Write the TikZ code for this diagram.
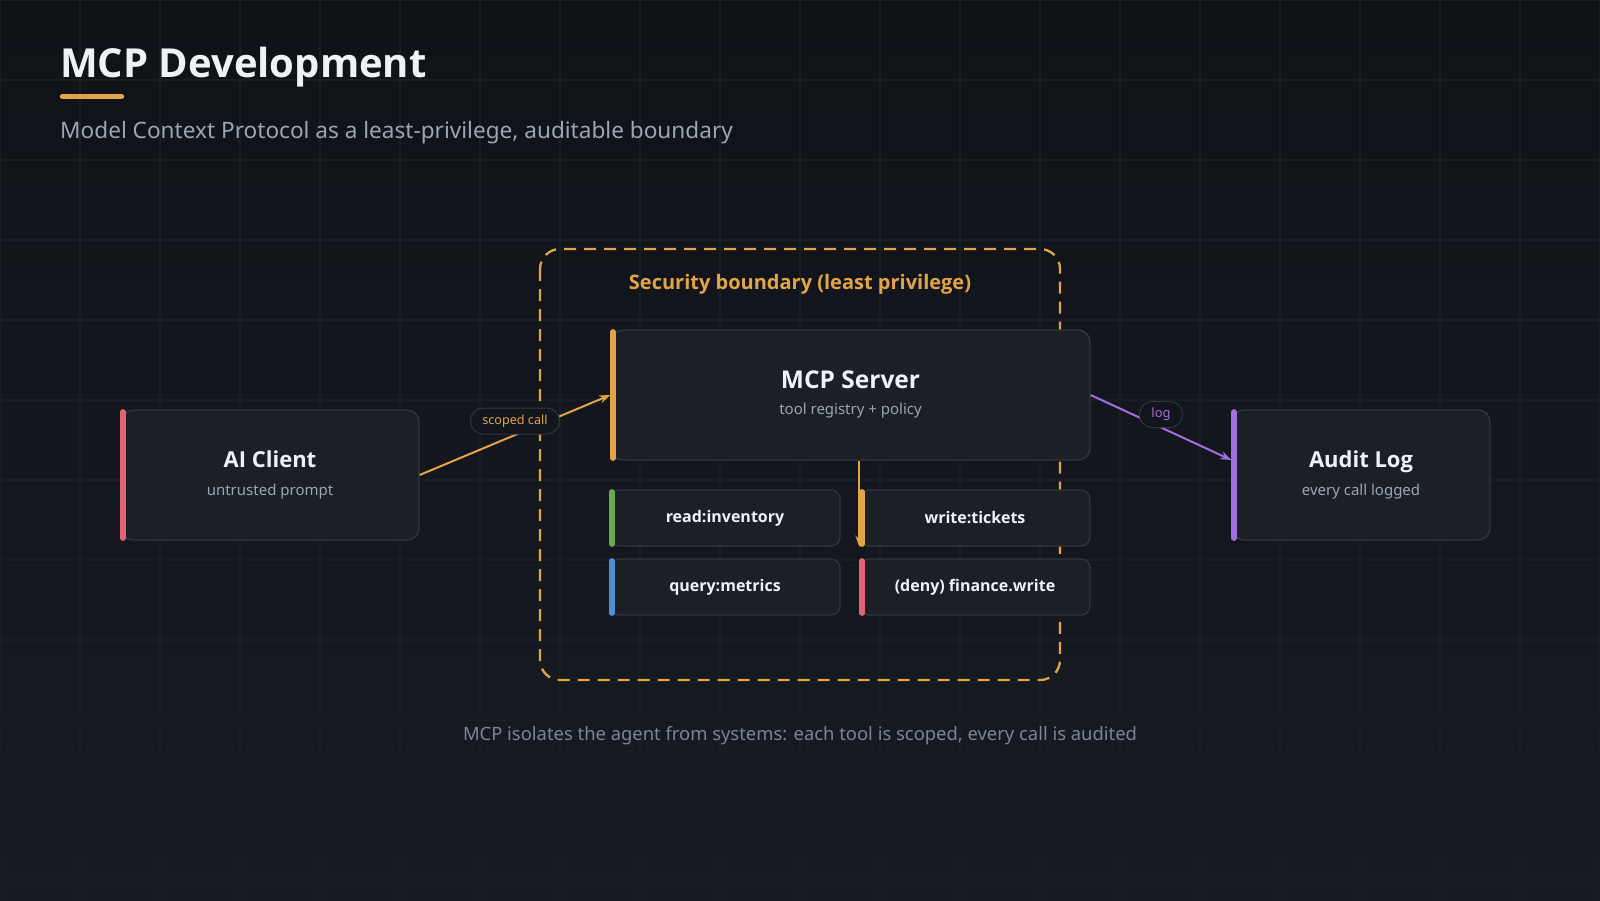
\documentclass[tikz,border=0pt]{standalone}
\usepackage{fontspec}
\setmainfont{Noto Sans}[BoldFont={Open Sans Bold}]
\usetikzlibrary{arrows.meta}

\definecolor{bgtop}{HTML}{0F1217}
\definecolor{bgbot}{HTML}{171B23}
\definecolor{gridc}{HTML}{191D24}
\definecolor{cardfill}{HTML}{1C1F26}
\definecolor{cardline}{HTML}{30363F}
\definecolor{pillfill}{HTML}{12151B}
\definecolor{ink}{HTML}{EEF2F7}
\definecolor{subtext}{HTML}{9AA6B4}
\definecolor{footc}{HTML}{7B8594}
\definecolor{amber}{HTML}{E3A447}
\definecolor{rose}{HTML}{E06472}
\definecolor{leaf}{HTML}{6AAA4A}
\definecolor{sky}{HTML}{4F8FD0}
\definecolor{violet}{HTML}{A36EE0}

\tikzset{
  card/.style={draw=cardline, line width=1.3pt, fill=cardfill, rounded corners=12pt, inner sep=0pt},
  bigcard/.style={card, minimum height=130pt},
  toolbox/.style={card, rounded corners=9pt, minimum width=230pt, minimum height=56pt,
    text=ink, font=\fontsize{16}{19}\selectfont\bfseries},
  cardname/.style={anchor=base, inner sep=0pt, text=ink, font=\fontsize{22}{26}\selectfont\bfseries},
  cardnote/.style={anchor=base, inner sep=0pt, text=subtext, font=\fontsize{15}{18}\selectfont},
  pill/.style={draw=cardline, fill=pillfill, line width=1pt, rounded corners=13pt,
    minimum height=26pt, inner xsep=12pt, inner ysep=0pt, font=\fontsize{12.6}{14}\selectfont},
  link/.style={line width=2pt, -{Stealth[length=11pt,width=8pt]}},
  accent/.style={line width=5.5pt, line cap=round},
}

\begin{document}
\begin{tikzpicture}[x=1pt,y=-1pt]
  % background and grid
  \shade[top color=bgtop, bottom color=bgbot] (0,0) rectangle (1600,900);
  \useasboundingbox (0,0) rectangle (1600,900);
  \draw[gridc, line width=1.2pt, step=80pt] (0,0) grid (1600,900);

  % heading
  \node[anchor=base west, inner sep=0pt, text=ink, font=\fontsize{40}{46}\selectfont\bfseries] (title) at (60,77) {MCP Development};
  \draw[accent, amber] (62.5,96.5) -- (121.5,96.5);
  \node[anchor=base west, inner sep=0pt, text=subtext, font=\fontsize{22.6}{26}\selectfont] (subtitle) at (60,138) {Model Context Protocol as a least-privilege, auditable boundary};

  % security boundary
  \draw[amber, line width=2.3pt, dash pattern=on 12pt off 8pt, rounded corners=20pt] (540,249) rectangle (1060,680);
  \node[anchor=base, inner sep=0pt, text=amber, font=\fontsize{20}{24}\selectfont\bfseries] (zone) at (800,289) {Security boundary (least privilege)};

  % main cards
  \node[bigcard, minimum width=298pt] (client) at (270,475) {};
  \node[cardname] (clientname) at ([yshift=8pt]client.center) {AI Client};
  \node[cardnote] (clientnote) at ([yshift=-20pt]client.center) {untrusted prompt};

  \node[bigcard, minimum width=479pt] (server) at (850.5,395) {};
  \node[cardname, font=\fontsize{24.5}{28}\selectfont\bfseries] (servername) at ([yshift=7pt]server.center) {MCP Server};
  \node[cardnote] (servernote) at ([yshift=-19pt]server.center) {tool registry + policy};

  \node[bigcard, minimum width=258pt] (audit) at (1361,475) {};
  \node[cardname] (auditname) at ([yshift=8pt]audit.center) {Audit Log};
  \node[cardnote] (auditnote) at ([yshift=-20pt]audit.center) {every call logged};

  % tools
  \node[toolbox] (inventory) at (725,518) {read:inventory};
  \node[toolbox] (tickets) at (975,518) {write:tickets};
  \node[toolbox] (metrics) at (725,587) {query:metrics};
  \node[toolbox] (finance) at (975,587) {(deny) finance.write};

  \foreach \n/\c in {client/rose, server/amber, audit/violet, inventory/leaf, tickets/amber, metrics/sky, finance/rose}
    \draw[accent, \c] ([xshift=2.5pt,yshift=-2.5pt]\n.north west) -- ([xshift=2.5pt,yshift=2.5pt]\n.south west);

  % connectors
  \draw[link, amber] (client.east) -- (server.west)
    node[midway, pill, yshift=14pt, text=amber] (scoped) {scoped call};
  \draw[link, violet] (server.east) -- ([yshift=15pt]audit.west)
    node[midway, pill, yshift=13pt, text=violet, font=\fontsize{13}{15}\selectfont] (logtag) {log};
  \draw[link, amber] (server.south -| tickets.west) -- (tickets.south west);

  \node[anchor=base, inner sep=0pt, text=footc, font=\fontsize{18.4}{22}\selectfont] (footnote) at (800,740) {MCP isolates the agent from systems: each tool is scoped, every call is audited};
\end{tikzpicture}
\end{document}
